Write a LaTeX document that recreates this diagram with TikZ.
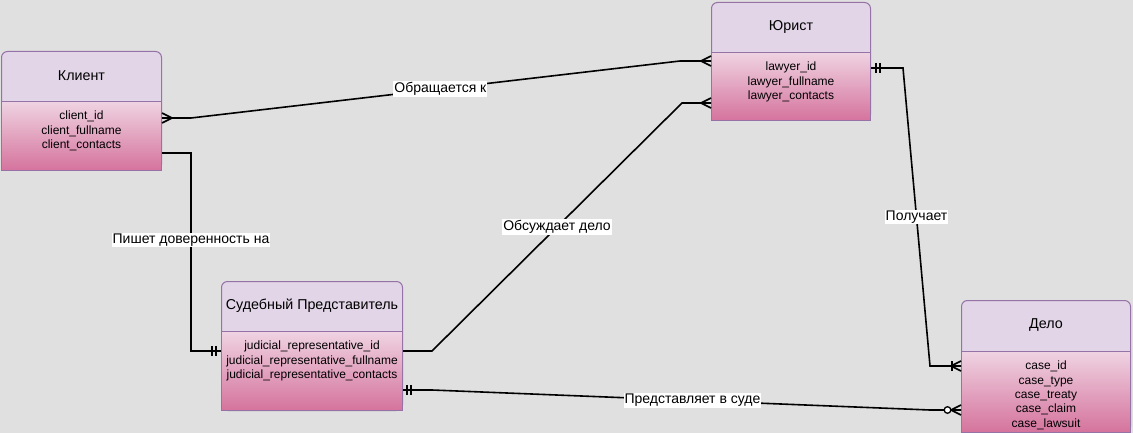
\documentclass[tikz,border=0pt]{standalone}
\usepackage{fontspec}
\setmainfont{Liberation Sans}
\usetikzlibrary{calc}
\definecolor{bgc}{RGB}{224,224,224}
\definecolor{hdrfill}{HTML}{E1D5E7}
\definecolor{hdrdraw}{HTML}{9673A6}
\definecolor{bodytop}{HTML}{EFD3E2}
\definecolor{bodybot}{HTML}{D5739D}
\tikzset{
  entity/.style={draw=hdrdraw, fill=hdrfill, rounded corners=6pt, line width=1pt, anchor=north west, inner sep=0pt},
  bodybox/.style={draw=hdrdraw, top color=bodytop, bottom color=bodybot, line width=1pt, anchor=south west, inner sep=0pt},
  title/.style={inner sep=0pt, font=\fontsize{14.3}{16}\selectfont},
  fields/.style={anchor=north, align=center, inner sep=0pt, font=\fontsize{12}{14.3}\selectfont},
  conn/.style={line width=1.6pt, black},
  ermk/.style={line width=1.6pt, black},
  lbl/.style={fill=white, inner sep=1pt, font=\fontsize{14}{16}\selectfont},
}
\newcommand\ERcrow[2]{%
  \draw[ermk] ([xshift={(#2)*(-10pt)}]#1) -- ([yshift=5pt]#1)
              ([xshift={(#2)*(-10pt)}]#1) -- ([yshift=-5pt]#1);}
\newcommand\ERbar[3]{%
  \draw[ermk] ([xshift={(#2)*(-#3)*1pt}, yshift=5pt]#1) -- ([xshift={(#2)*(-#3)*1pt}, yshift=-5pt]#1);}
\newcommand\ERcirc[3]{%
  \draw[ermk, line width=1.3pt, fill=white] ([xshift={(#2)*(-#3)*1pt}]#1) circle (3.3pt);}
\begin{document}
\begin{tikzpicture}[x=1pt, y=-1pt]
\useasboundingbox (0,0) rectangle (1133,433);
\fill[bgc] (0,0) rectangle (1133,433);

% Клиент
\node[entity, minimum width=160, minimum height=119] (kl) at (1,51) {};
\node[bodybox, minimum width=160, minimum height=69] (klb) at (kl.south west) {};
\node[title] (klt) at ($(kl.north)!0.5!(klb.north)$) {Клиент};
\node[fields] (klf) at ($(klb.north)+(0,10)$) {client\_id\\client\_fullname\\client\_contacts};

% Юрист
\node[entity, minimum width=159, minimum height=118] (ju) at (711,2) {};
\node[bodybox, minimum width=159, minimum height=68] (jub) at (ju.south west) {};
\node[title] (jut) at ($(ju.north)!0.5!(jub.north)$) {Юрист};
\node[fields] (juf) at ($(jub.north)+(0,10)$) {lawyer\_id\\lawyer\_fullname\\lawyer\_contacts};

% Судебный Представитель
\node[entity, minimum width=181, minimum height=129] (su) at (221,281) {};
\node[bodybox, minimum width=181, minimum height=79] (sub) at (su.south west) {};
\node[title] (sut) at ($(su.north)!0.5!(sub.north)$) {Судебный Представитель};
\node[fields] (suf) at ($(sub.north)+(0,10)$) {judicial\_representative\_id\\judicial\_representative\_fullname\\judicial\_representative\_contacts};

% Дело
\node[entity, minimum width=169, minimum height=132] (de) at (961,300) {};
\node[bodybox, minimum width=169, minimum height=81] (deb) at (de.south west) {};
\node[title] (det) at ($(de.north)!0.5!(deb.north)$) {Дело};
\node[fields] (def) at ($(deb.north)+(0,10)$) {case\_id\\case\_type\\case\_treaty\\case\_claim\\case\_lawsuit};

% connection points
\coordinate (c1a) at ($(kl.north east)+(0,67)$);
\coordinate (c1d) at ($(ju.north west)+(0,59)$);
\coordinate (c2a) at ($(kl.north east)+(0,102)$);
\coordinate (c2b) at ($(su.north west)+(0,70)$);
\coordinate (c3a) at ($(su.north east)+(0,70)$);
\coordinate (c3b) at ($(ju.north west)+(0,101)$);
\coordinate (c4a) at ($(ju.north east)+(0,66)$);
\coordinate (c4b) at ($(de.north west)+(0,66)$);
\coordinate (c5a) at ($(su.north east)+(0,109)$);
\coordinate (c5b) at ($(de.north west)+(0,110)$);

% Клиент -> Юрист
\draw[conn] (c1a) -- ($(c1a)+(29,0)$) -- node[lbl, pos=0.51] {Обращается к} ($(c1d)+(-31,0)$) -- (c1d);
\ERcrow{c1a}{-1}
\ERcrow{c1d}{1}

% Клиент -> Судебный Представитель
\draw[conn] (c2a) -- ($(c2a)+(29,0)$) |- node[lbl, pos=0.22] {Пишет доверенность на} (c2b);
\ERbar{c2b}{1}{5}
\ERbar{c2b}{1}{9}

% Судебный Представитель -> Юрист
\draw[conn] (c3a) -- ($(c3a)+(29,0)$) -- node[lbl, pos=0.5] {Обсуждает дело} ($(c3b)+(-29,0)$) -- (c3b);
\ERcrow{c3b}{1}

% Юрист -> Дело
\draw[conn] (c4a) -- ($(c4a)+(32,0)$) -- node[lbl, pos=0.5] {Получает} ($(c4b)+(-31,0)$) -- (c4b);
\ERbar{c4a}{-1}{5}
\ERbar{c4a}{-1}{9}
\ERcrow{c4b}{1}
\ERbar{c4b}{1}{9}

% Судебный Представитель -> Дело
\draw[conn] (c5a) -- ($(c5a)+(29,0)$) -- node[lbl, pos=0.523] {Представляет в суде} ($(c5b)+(-31,0)$) -- (c5b);
\ERbar{c5a}{-1}{4}
\ERbar{c5a}{-1}{8}
\ERcrow{c5b}{1}
\ERcirc{c5b}{1}{13.5}
\end{tikzpicture}
\end{document}
